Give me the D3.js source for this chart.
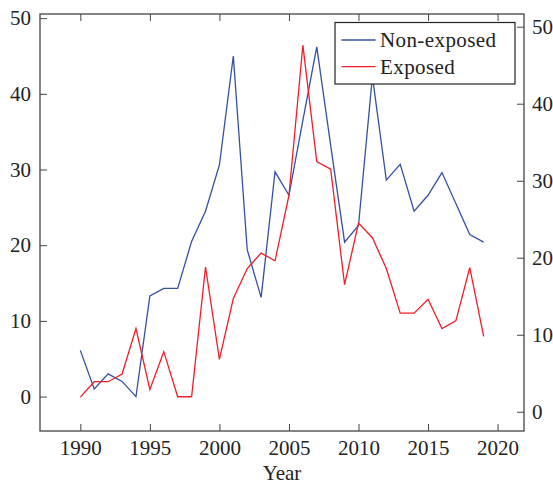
<!DOCTYPE html>
<html>
<head>
<meta charset="utf-8">
<script src="https://cdn.jsdelivr.net/npm/d3@7"></script>
<style>
  body { margin: 0; background: #fff; }
  text { font-family: "Liberation Serif", "Times New Roman", serif; fill: #222; }
</style>
</head>
<body>
<div id="chart"></div>
<script>
// Data
const years = d3.range(1990, 2020);
const nonExposed = [6.1, 1, 3, 2, 0, 13.3, 14.3, 14.3, 20.5, 24.5,
    30.6, 45, 19.4, 13.1, 29.7, 26.6, 36.5, 46.2, 33.2, 20.4,
    22.6, 42.3, 28.6, 30.7, 24.5, 26.6, 29.6, 25.5, 21.4, 20.4];
const exposed = [1.9, 3.9, 3.9, 4.9, 10.8, 2.9, 7.8, 1.95, 1.95, 18.8,
    6.8, 14.7, 18.6, 20.6, 19.6, 28.1, 47.6, 32.5, 31.5, 16.5,
    24.5, 22.6, 18.6, 12.8, 12.8, 14.6, 10.8, 11.8, 18.7, 9.8];
const xTicks = [1990, 1995, 2000, 2005, 2010, 2015, 2020];
const yTicks = [0, 10, 20, 30, 40, 50];
const seriesNames = ["Non-exposed", "Exposed"];

const width = 553, height = 485;
const plotLeft = 40, plotRight = 524, plotTop = 14, plotBottom = 431;
const blue = "#3350a3", red = "#f21d2a";
const fontSize = "21px";

const svg = d3.select("#chart").append("svg")
    .attr("width", width)
    .attr("height", height);

// scales (left axis for non-exposed, right axis for exposed)
const x = d3.scaleLinear().domain([1990 - 2.9, 2019 + 2.9]).range([plotLeft, plotRight]);
const yL = d3.scaleLinear().domain([-4.55, 50.55]).range([plotBottom, plotTop]);
const yR = d3.scaleLinear().domain([-2.5, 51.65]).range([plotBottom, plotTop]);

// lines
const lineL = d3.line().x((d, i) => x(years[i])).y(d => yL(d));
const lineR = d3.line().x((d, i) => x(years[i])).y(d => yR(d));

svg.append("path")
    .datum(nonExposed)
    .attr("d", lineL)
    .attr("fill", "none")
    .attr("stroke", blue)
    .attr("stroke-width", 1.3);

svg.append("path")
    .datum(exposed)
    .attr("d", lineR)
    .attr("fill", "none")
    .attr("stroke", red)
    .attr("stroke-width", 1.3);

// axes with inward ticks
function styleAxis(g) {
    g.select(".domain").remove();
    g.selectAll(".tick line").attr("stroke", "#444").attr("stroke-width", 1);
    g.selectAll(".tick text").style("font-size", fontSize).attr("fill", "#222")
        .style("font-family", "'Liberation Serif', serif");
}

svg.append("g")
    .attr("transform", `translate(0,${plotBottom})`)
    .call(d3.axisBottom(x).tickValues(xTicks).tickFormat(d3.format("d")).tickSize(-7).tickPadding(9))
    .call(styleAxis);

svg.append("g")
    .attr("transform", `translate(0,${plotTop})`)
    .call(d3.axisTop(x).tickValues(xTicks).tickFormat("").tickSize(-7))
    .call(styleAxis);

svg.append("g")
    .attr("transform", `translate(${plotLeft},0)`)
    .call(d3.axisLeft(yL).tickValues(yTicks).tickSize(-7).tickPadding(9))
    .call(styleAxis);

svg.append("g")
    .attr("transform", `translate(${plotRight},0)`)
    .call(d3.axisRight(yR).tickValues(yTicks).tickSize(-7).tickPadding(8))
    .call(styleAxis);

// frame
svg.append("rect")
    .attr("x", plotLeft)
    .attr("y", plotTop)
    .attr("width", plotRight - plotLeft)
    .attr("height", plotBottom - plotTop)
    .attr("fill", "none")
    .attr("stroke", "#444")
    .attr("stroke-width", 1.3);

// x label
svg.append("text")
    .attr("x", (plotLeft + plotRight) / 2)
    .attr("y", 480)
    .attr("text-anchor", "middle")
    .style("font-size", fontSize)
    .text("Year");

// legend
const legend = svg.append("g");
legend.append("rect")
    .attr("x", 335)
    .attr("y", 22.5)
    .attr("width", 180)
    .attr("height", 61.5)
    .attr("fill", "#fff")
    .attr("stroke", "#222")
    .attr("stroke-width", 1.2);

const legendColors = [blue, red];
seriesNames.forEach((name, i) => {
    const ly = 40 + i * 26.7;
    legend.append("line")
        .attr("x1", 341.5).attr("x2", 375.5)
        .attr("y1", ly).attr("y2", ly)
        .attr("stroke", legendColors[i])
        .attr("stroke-width", 1.3);
    legend.append("text")
        .attr("x", 380)
        .attr("y", ly)
        .attr("dy", "0.35em")
        .style("font-size", fontSize)
        .style("letter-spacing", "0.4px")
        .text(name);
});
</script>
</body>
</html>
